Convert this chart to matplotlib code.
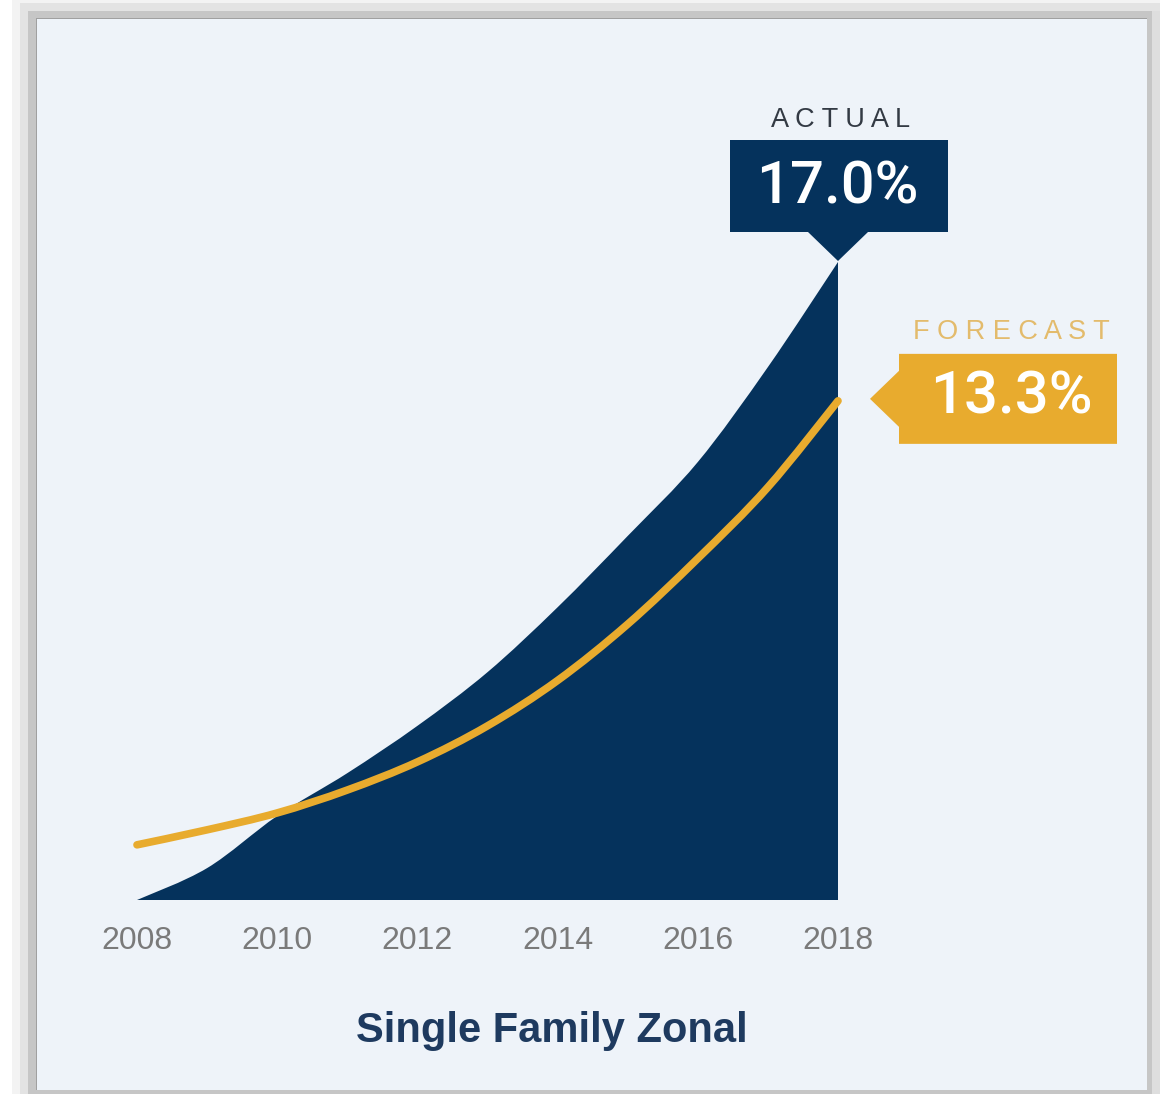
import matplotlib
matplotlib.use("Agg")
import matplotlib.pyplot as plt
from matplotlib.patches import Rectangle, Polygon, PathPatch
from matplotlib.path import Path
from matplotlib.transforms import IdentityTransform
import logging
logging.getLogger('matplotlib.font_manager').setLevel(logging.ERROR)

# ---- data ----
years = [2008, 2009, 2010, 2011, 2012, 2013, 2014, 2015, 2016, 2017, 2018]
actual = [0.0, 0.85, 2.24, 3.38, 4.64, 6.07, 7.8, 9.7, 11.67, 14.2, 17.0]
forecast = [1.47, 1.87, 2.32, 2.93, 3.68, 4.64, 5.85, 7.35, 9.1, 11.0, 13.3]
tick_years = [2008, 2010, 2012, 2014, 2016, 2018]
tick_labels = [str(y) for y in tick_years]
title = "Single Family Zonal"
actual_label = "ACTUAL"
forecast_label = "FORECAST"
actual_value = "17.0%"
forecast_value = "13.3%"

NAVY = "#05325c"
GOLD = "#e8ab2e"
GOLD_LIGHT = "#e3bb6c"
PANEL = "#eef3f9"

W, H = 1160, 1094
fig = plt.figure(figsize=(W / 100, H / 100), dpi=100)
fig.patch.set_facecolor("#ffffff")
ID = IdentityTransform()


def rect_px(x0, y0, x1, y1, color, z=-5):
    r = Rectangle((x0, H - y1), x1 - x0, y1 - y0, transform=ID,
                  facecolor=color, edgecolor="none", zorder=z)
    fig.add_artist(r)


def smooth_path_vertices(xs, ys):
    """Catmull-Rom through the given points, expressed as cubic Bezier segments."""
    pts = list(zip(xs, ys))
    n = len(pts)
    verts = [pts[0]]
    codes = [Path.MOVETO]
    for i in range(n - 1):
        p0 = pts[i - 1] if i > 0 else pts[i]
        p1 = pts[i]
        p2 = pts[i + 1]
        p3 = pts[i + 2] if i + 2 < n else pts[i + 1]
        c1 = (p1[0] + (p2[0] - p0[0]) / 6.0, p1[1] + (p2[1] - p0[1]) / 6.0)
        c2 = (p2[0] - (p3[0] - p1[0]) / 6.0, p2[1] - (p3[1] - p1[1]) / 6.0)
        verts += [c1, c2, p2]
        codes += [Path.CURVE4] * 3
    return verts, codes


# shadow / frame
rect_px(12, 0, 1160, 1094, "#f3f3f3", -9)
rect_px(20, 3, 1160, 1094, "#e3e3e3", -8)
rect_px(28, 11, 1160, 1094, "#c6c6c6", -7)
rect_px(1152, 11, 1160, 1094, "#dedede", -7)
rect_px(36, 18, 1147, 1090, "#a0a0a0", -6)
rect_px(37, 19, 1147, 1090, PANEL, -5)

# axes placement: 2008 at x=137px, 2018 at x=838px; baseline y=900px, 17 at y=262px
x_left, x_right = 137, 838
y_base, y_top = 900, 262
ax = fig.add_axes([x_left / W, (H - y_base) / H, (x_right - x_left) / W, (y_base - y_top) / H])
ax.patch.set_alpha(0)
for s in ax.spines.values():
    s.set_visible(False)
ax.set_yticks([])

# actual: smooth filled area
v, c = smooth_path_vertices(years, actual)
v = v + [(years[-1], 0), (years[0], 0), v[0]]
c = c + [Path.LINETO, Path.LINETO, Path.CLOSEPOLY]
ax.add_patch(PathPatch(Path(v, c), facecolor=NAVY, edgecolor="none", zorder=2, clip_on=False))

# forecast: smooth line
v, c = smooth_path_vertices(years, forecast)
ax.add_patch(PathPatch(Path(v, c), facecolor="none", edgecolor=GOLD, linewidth=5.5,
                       capstyle="round", joinstyle="round", zorder=3, clip_on=False))

ax.set_xlim(2008, 2018)
ax.set_ylim(0, 17)
ax.set_xticks(tick_years)
ax.set_xticklabels(tick_labels, fontfamily=["Liberation Sans", "DejaVu Sans"],
                   fontsize=23, color="#7a7a7a")
ax.tick_params(axis="x", length=0, pad=19)

# title
fig.text(552 / W, 1 - 1031 / H, title, ha="center", va="center",
         fontfamily=["Liberation Sans", "DejaVu Sans"],
         fontweight="bold", fontsize=30, color="#1e3a5f")

fig.canvas.draw()

# ACTUAL callout anchored at last actual point
ax_px, ay_px = ax.transData.transform((years[-1], actual[-1]))
ay_px += 1
pts = [(0, 0), (30, 29), (110, 29), (110, 121), (-108, 121), (-108, 29), (-30, 29)]
fig.add_artist(Polygon([(ax_px + dx, ay_px + dy) for dx, dy in pts], closed=True,
                       transform=ID, facecolor=NAVY, edgecolor="none", zorder=5))
fig.text(ax_px - 1, ay_px + 74, actual_value, transform=ID, ha="center", va="center",
         fontfamily=["Roboto", "DejaVu Sans"], fontweight="medium", fontsize=43,
         color="white", zorder=6)
fig.text(ax_px + 3, ay_px + 141, " ".join(actual_label), transform=ID, ha="center", va="center",
         fontfamily=["Liberation Sans", "DejaVu Sans"], fontsize=19.5, color="#333a44", zorder=6)

# FORECAST callout anchored at last forecast point
fx_px, fy_px = ax.transData.transform((years[-1], forecast[-1]))
pts = [(32, 2), (61, 30), (61, 47), (279, 47), (279, -43), (61, -43), (61, -26)]
fig.add_artist(Polygon([(fx_px + dx, fy_px + dy) for dx, dy in pts], closed=True,
                       transform=ID, facecolor=GOLD, edgecolor="none", zorder=5))
fig.text(fx_px + 173, fy_px + 4, forecast_value, transform=ID, ha="center", va="center",
         fontfamily=["Roboto", "DejaVu Sans"], fontweight="medium", fontsize=43,
         color="white", zorder=6)
fig.text(fx_px + 173, fy_px + 69, " ".join(forecast_label), transform=ID, ha="center", va="center",
         fontfamily=["Liberation Sans", "DejaVu Sans"], fontsize=19.5, color=GOLD_LIGHT, zorder=6)

fig.savefig("out.png", dpi=100, facecolor=fig.get_facecolor())
